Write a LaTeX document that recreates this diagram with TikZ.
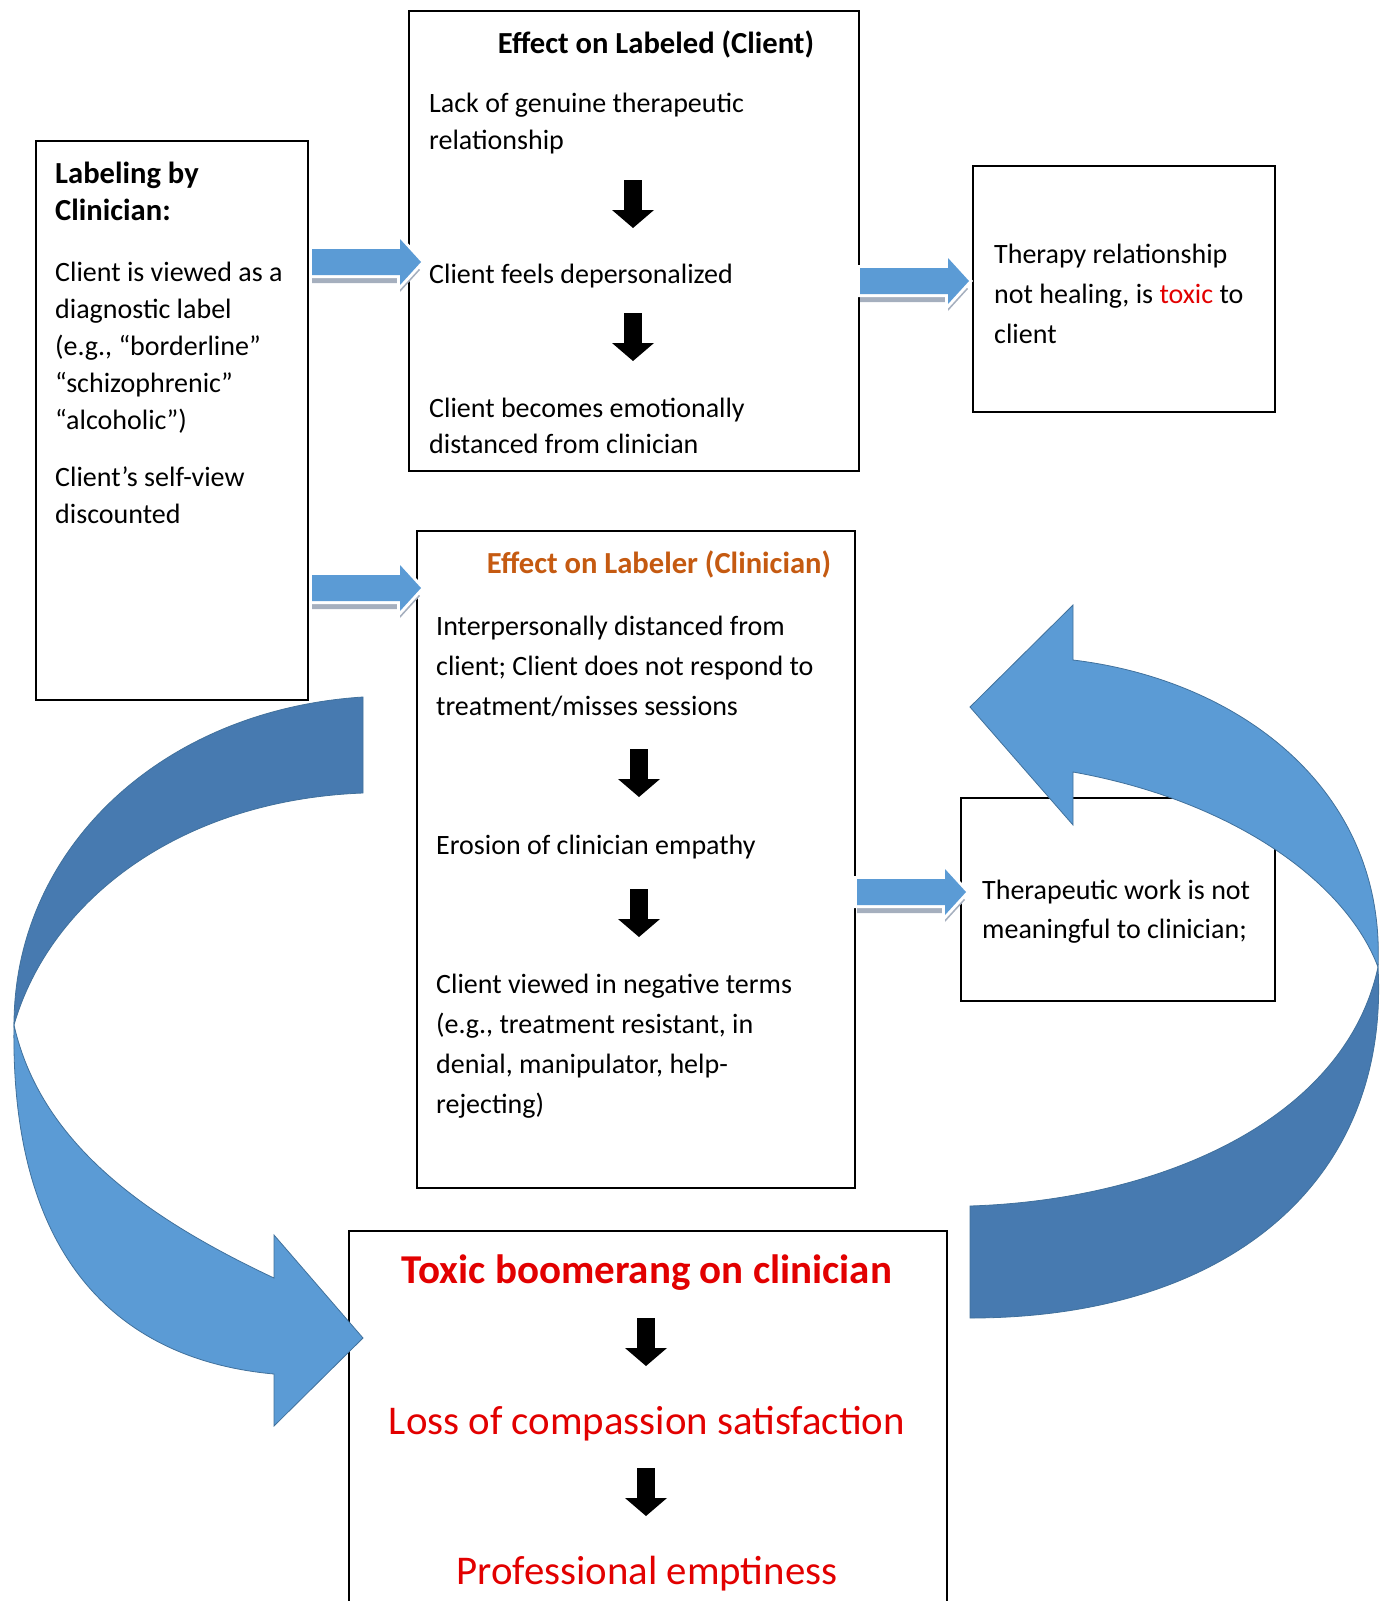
\documentclass[tikz,border=0pt]{standalone}
\usepackage{fontspec}
\setmainfont{Carlito}
\usetikzlibrary{positioning}
\definecolor{arrowBlue}{RGB}{91,155,213}
\definecolor{arrowDark}{RGB}{71,122,176}
\definecolor{arrowEdge}{RGB}{65,113,156}
\definecolor{arrowShadow}{RGB}{165,175,190}
\definecolor{toxicRed}{RGB}{226,0,0}
\definecolor{labelerOrange}{RGB}{197,90,17}
\tikzset{
    frameBox/.style={draw=black, line width=2.2pt, inner sep=0pt},
    txt/.style={anchor=base west, align=left, inner sep=0pt, font=\fontsize{28}{37}\selectfont},
    looseTxt/.style={txt, font=\fontsize{28}{40}\selectfont},
    headTxt/.style={anchor=base, inner sep=0pt, font=\fontsize{30.6}{37}\selectfont\bfseries},
    bigTxt/.style={anchor=base, inner sep=0pt, text=toxicRed, font=\fontsize{40.8}{48}\selectfont}
}
\tikzset{
    blockArrow/.pic={
		\fill[arrowShadow] (0,-5) -- (88,-5) -- (88,-14) -- (108,8) -- (88,30) -- (88,21) -- (0,21) -- cycle;
		\draw[white, line width=6pt] (0,-13) -- (88,-13) -- (88,-23) -- (109,0) -- (88,23) -- (88,13) -- (0,13) -- cycle;
		\fill[arrowBlue] (0,-13) -- (88,-13) -- (88,-23) -- (109,0) -- (88,23) -- (88,13) -- (0,13) -- cycle;
	}
}
\tikzset{
    downArrow/.pic={
		\fill[black] (-9,0) rectangle (9,31);
		\fill[black] (-21,30) -- (21,30) -- (0,48) -- cycle;
	}
}
\begin{document}
\begin{tikzpicture}[x=1pt,y=-1pt]
			\useasboundingbox (0,0) rectangle (1385,1601);
			% boxes
			\node[frameBox, minimum width=272, minimum height=559] (labeling) at (172,420.5) {};
			\node[frameBox, minimum width=450, minimum height=460] (clientBox) at (634,241) {};
			\node[frameBox, minimum width=302, minimum height=246] (therapyBox) at (1124,289) {};
			\node[frameBox, minimum width=438, minimum height=657] (clinicianBox) at (636,859.5) {};
			\node[frameBox, minimum width=314, minimum height=203] (workBox) at (1118,899.5) {};
			\node[frameBox, minimum width=598, minimum height=400] (toxicBox) at (648,1431) {};
			% labeling by clinician (base = last line)
			\node[txt, font=\fontsize{30.6}{37}\selectfont\bfseries] (labelHead) at (55,220) {Labeling by\\Clinician:};
			\node[txt] (labelView) at (55,429) {Client is viewed as a\\diagnostic label\\(e.g., “borderline”\\“schizophrenic”\\“alcoholic”)};
			\node[txt] (labelSelf) at (55,523) {Client’s self-view\\discounted};
			% effect on labeled
			\node[headTxt] (clientHead) at (656,53) {Effect on Labeled (Client)};
			\node[txt] (lack) at (429,149) {Lack of genuine therapeutic\\relationship};
			\pic at (633,180) {downArrow};
			\node[txt] (depers) at (429,283) {Client feels depersonalized};
			\pic at (633,313) {downArrow};
			\node[txt, font=\fontsize{28}{36}\selectfont] (distanced) at (429,453) {Client becomes emotionally\\distanced from clinician};
			\node[looseTxt] (toxicRel) at (994,343) {Therapy relationship\\not healing, is \textcolor{toxicRed}{toxic} to\\client};
			% effect on labeler
			\node[headTxt, text=labelerOrange] (clinicianHead) at (659,573) {Effect on Labeler (Clinician)};
			\node[looseTxt] (interp) at (436,715) {Interpersonally distanced from\\client; Client does not respond to\\treatment/misses sessions};
			\pic at (639,749) {downArrow};
			\node[txt] (erosion) at (436,854) {Erosion of clinician empathy};
			\pic at (639,889) {downArrow};
			\node[looseTxt, font=\fontsize{28}{39.7}\selectfont] (negative) at (436,1113) {Client viewed in negative terms\\(e.g., treatment resistant, in\\denial, manipulator, help-\\rejecting)};
			\node[looseTxt, font=\fontsize{28}{39}\selectfont] (meaning) at (982,938) {Therapeutic work is not\\meaningful to clinician;};
			% toxic boomerang
			\node[bigTxt, font=\fontsize{41}{48}\selectfont\bfseries] (boomerang) at (647,1283) {Toxic boomerang on clinician};
			\pic at (646,1318) {downArrow};
			\node[bigTxt] (compassion) at (647,1434) {Loss of compassion satisfaction};
			\pic at (646,1468) {downArrow};
			\node[bigTxt] (emptiness) at (647,1584) {Professional emptiness};
			% block arrows between boxes
			\pic at (312,262) {blockArrow};
			\pic at (860,281) {blockArrow};
			\pic at (312,588) {blockArrow};
			\pic at (857,892) {blockArrow};
			% left boomerang
			\filldraw[fill=arrowDark, draw=arrowEdge, line width=0.8pt] (363,697) .. controls (160,710) and (14,850) .. (14,1025) .. controls (50,900) and (180,800) .. (363,793) -- cycle;
			\filldraw[fill=arrowBlue, draw=arrowEdge, line width=0.8pt] (274,1374) -- (274,1426) -- (363,1338) -- (274,1235) -- (274,1278) .. controls (140,1215) and (40,1140) .. (14,1025) .. controls (10,1260) and (120,1360) .. (274,1374) -- cycle;
			% right boomerang
			\filldraw[fill=arrowDark, draw=arrowEdge, line width=0.8pt] (970,1206) .. controls (1160,1200) and (1345,1120) .. (1378,967) .. controls (1390,1180) and (1230,1318) .. (970,1318) -- cycle;
			\filldraw[fill=arrowBlue, draw=arrowEdge, line width=0.8pt] (1073,660) -- (1073,605) -- (970,707) -- (1073,825) -- (1073,772) .. controls (1230,800) and (1345,880) .. (1378,967) .. controls (1386,790) and (1240,680) .. (1073,660) -- cycle;
		\end{tikzpicture}
\end{document}
